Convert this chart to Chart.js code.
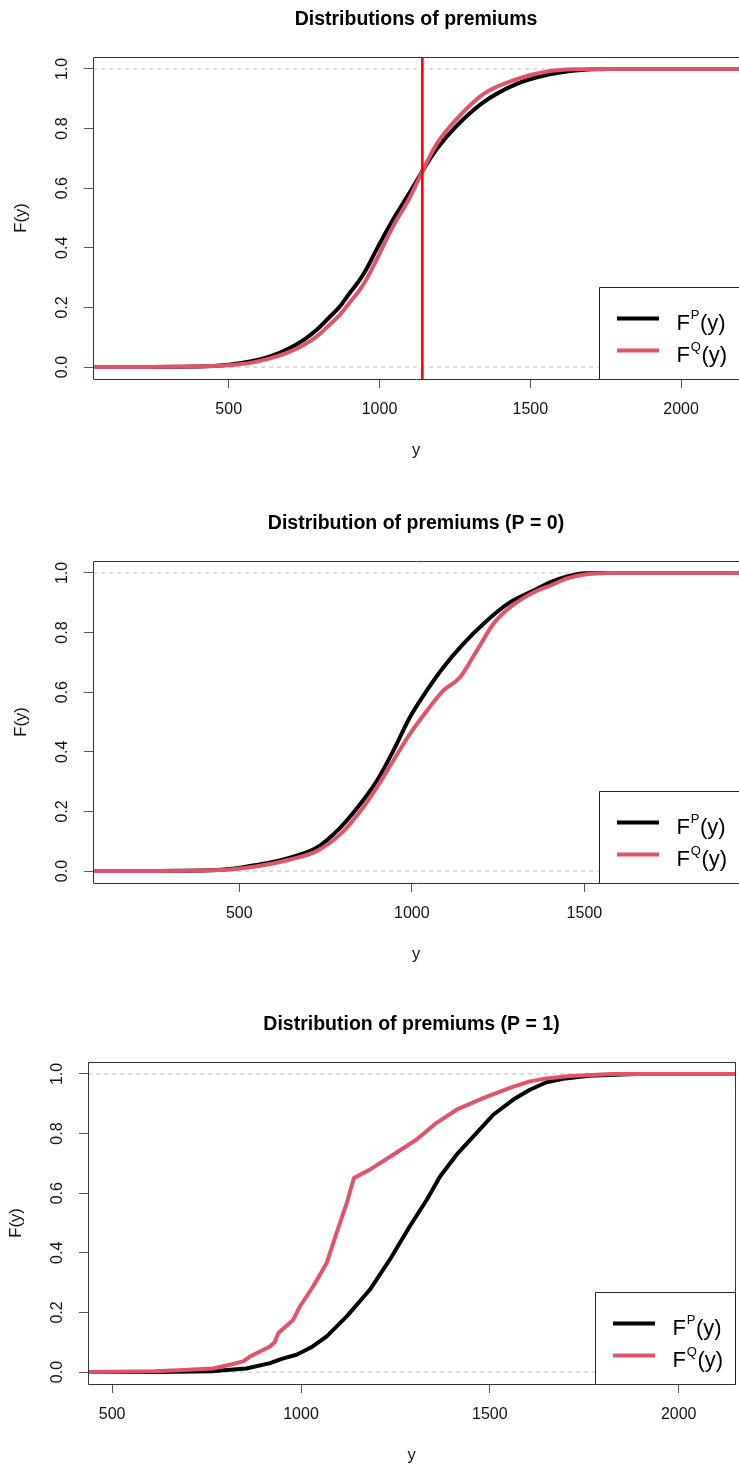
<!DOCTYPE html>
<html>
<head>
<meta charset="utf-8">
<script src="https://cdn.jsdelivr.net/npm/chart.js@4.4.1/dist/chart.umd.min.js"></script>
<style>
  html, body { margin: 0; padding: 0; background: #fff; overflow: hidden; }
  canvas { position: absolute; left: 0; }
</style>
</head>
<body>
<canvas id="c1" width="739" height="490" style="top:0px"></canvas>
<canvas id="c2" width="739" height="500" style="top:490px"></canvas>
<canvas id="c3" width="739" height="478" style="top:990px"></canvas>
<script>
// Textes
const TITLES = ["Distributions of premiums", "Distribution of premiums (P = 0)", "Distribution of premiums (P = 1)"];
const X_LABEL = "y";
const Y_LABEL = "F(y)";
const LEGEND_SUPS = ["P", "Q"];

// Graduations
const Y_TICKS = [0, 0.2, 0.4, 0.6, 0.8, 1.0];
const X_TICKS_1 = [500, 1000, 1500, 2000];
const X_TICKS_2 = [500, 1000, 1500];
const X_TICKS_3 = [500, 1000, 1500, 2000];
const Y_MIN = -0.04, Y_MAX = 1.04;

// Seuil (ligne rouge du premier graphique)
const CUT_1 = 1142;

// Panneau 1 : toutes les primes
const P1_X_P = [50, 400, 500, 571, 640, 703, 750, 792, 830, 869, 900, 935, 960, 990, 1045, 1100, 1139, 1189, 1255, 1343, 1453, 1564, 1650, 1760, 2192];
const P1_F_P = [0, 0.002, 0.008, 0.019, 0.037, 0.064, 0.092, 0.125, 0.163, 0.204, 0.247, 0.293, 0.335, 0.394, 0.495, 0.585, 0.652, 0.73, 0.808, 0.887, 0.949, 0.982, 0.995, 1, 1];
const P1_X_Q = [50, 420, 500, 571, 640, 703, 750, 792, 830, 869, 900, 935, 960, 990, 1045, 1100, 1139, 1189, 1255, 1343, 1453, 1564, 1650, 1760, 2192];
const P1_F_Q = [0, 0.003, 0.006, 0.014, 0.03, 0.052, 0.075, 0.103, 0.138, 0.176, 0.215, 0.26, 0.3, 0.36, 0.472, 0.568, 0.65, 0.747, 0.831, 0.915, 0.965, 0.993, 0.999, 1, 1];

// Panneau 2 : P = 0
const P2_X_P = [70, 394, 480, 531, 590, 647, 724, 792, 850, 898, 946, 994, 1043, 1091, 1149, 1207, 1284, 1362, 1400, 1450, 1500, 1568, 1950];
const P2_F_P = [0, 0.002, 0.008, 0.017, 0.029, 0.045, 0.078, 0.145, 0.224, 0.302, 0.403, 0.515, 0.605, 0.683, 0.762, 0.829, 0.901, 0.946, 0.968, 0.988, 0.999, 1, 1];
const P2_X_Q = [70, 394, 480, 531, 590, 647, 724, 792, 850, 898, 946, 994, 1043, 1091, 1139, 1188, 1236, 1284, 1362, 1400, 1450, 1500, 1568, 1950];
const P2_F_Q = [0, 0.002, 0.006, 0.013, 0.024, 0.039, 0.067, 0.123, 0.2, 0.28, 0.37, 0.459, 0.537, 0.605, 0.649, 0.739, 0.829, 0.884, 0.94, 0.957, 0.982, 0.995, 1, 1];

// Panneau 3 : P = 1
const P3_X_P = [430, 615, 764, 812, 855, 918, 951, 988, 1030, 1068, 1121, 1182, 1235, 1288, 1333, 1368, 1412, 1465, 1509, 1562, 1606, 1650, 1700, 1762, 1887, 2150];
const P3_F_P = [0, 0, 0.003, 0.008, 0.012, 0.03, 0.045, 0.058, 0.085, 0.12, 0.187, 0.276, 0.377, 0.489, 0.578, 0.656, 0.729, 0.802, 0.863, 0.914, 0.947, 0.972, 0.985, 0.994, 1, 1];
const P3_X_Q = [430, 611, 675, 767, 812, 847, 865, 918, 930, 940, 979, 997, 1032, 1068, 1094, 1121, 1140, 1182, 1244, 1306, 1359, 1412, 1482, 1553, 1606, 1650, 1712, 1825, 2150];
const P3_F_Q = [0, 0.003, 0.006, 0.012, 0.0245, 0.036, 0.052, 0.086, 0.1, 0.131, 0.175, 0.22, 0.287, 0.366, 0.466, 0.567, 0.651, 0.679, 0.729, 0.78, 0.836, 0.88, 0.919, 0.953, 0.975, 0.985, 0.993, 1, 1];

const FONT = '"Liberation Sans", Arial, Helvetica, sans-serif';
const BLACK = '#000000';
const PINK = '#DF536B';

// Mise en page de chaque panneau (en pixels du canvas)
const PANELS = [
    { id: 'c1', h: 490, left: 93, top: 57, right: 739, bottom: 379, xMin: 50, xMax: 2192, xTicks: X_TICKS_1,
      title: TITLES[0], rightBorder: false, cut: CUT_1, smooth: true,
      xp: P1_X_P, fp: P1_F_P, xq: P1_X_Q, fq: P1_F_Q },
    { id: 'c2', h: 500, left: 93, top: 71, right: 739, bottom: 393, xMin: 76, xMax: 1948, xTicks: X_TICKS_2,
      title: TITLES[1], rightBorder: false, cut: null, smooth: true,
      xp: P2_X_P, fp: P2_F_P, xq: P2_X_Q, fq: P2_F_Q },
    { id: 'c3', h: 478, left: 88, top: 72, right: 735, bottom: 394, xMin: 436, xMax: 2149, xTicks: X_TICKS_3,
      title: TITLES[2], rightBorder: true, cut: null, smooth: false,
      xp: P3_X_P, fp: P3_F_P, xq: P3_X_Q, fq: P3_F_Q }
];

function toPoints(xs, ys) {
    return xs.map((x, i) => ({ x: x, y: ys[i] }));
}

// Cadre, étiquettes de l'axe y, titres d'axes et légende façon R
const extras = {
    id: 'extras',
    afterDraw(chart, args, opts) {
        const ctx = chart.ctx;
        const a = chart.chartArea;
        const px = v => Math.round(v) + 0.5;
        ctx.save();

        // cadre
        ctx.strokeStyle = '#333';
        ctx.lineWidth = 1;
        ctx.beginPath();
        ctx.moveTo(px(a.right), px(a.top));
        ctx.lineTo(px(a.left), px(a.top));
        ctx.lineTo(px(a.left), px(a.bottom));
        ctx.lineTo(px(a.right), px(a.bottom));
        if (opts.rightBorder) ctx.lineTo(px(a.right), px(a.top));
        ctx.stroke();

        // étiquettes y pivotées
        const ys = chart.scales.y;
        ctx.fillStyle = '#111';
        ctx.font = '16px ' + FONT;
        ctx.textAlign = 'center';
        ctx.textBaseline = 'middle';
        ys.ticks.forEach(t => {
            const py = ys.getPixelForValue(t.value);
            ctx.save();
            ctx.translate(a.left - 30, py);
            ctx.rotate(-Math.PI / 2);
            ctx.fillText(t.label, 0, 0);
            ctx.restore();
        });

        // titres d'axes
        ctx.font = '16.5px ' + FONT;
        ctx.save();
        ctx.translate(a.left - 72, (a.top + a.bottom) / 2);
        ctx.rotate(-Math.PI / 2);
        ctx.fillText(Y_LABEL, 0, 0);
        ctx.restore();
        ctx.fillText(X_LABEL, (a.left + a.right) / 2, a.bottom + 71);

        // légende
        const L = a.right - 140, T = a.bottom - 92;
        ctx.fillStyle = '#fff';
        ctx.fillRect(L, T, a.right - L, a.bottom - T);
        ctx.strokeStyle = '#222';
        ctx.beginPath();
        ctx.moveTo(px(L), px(a.bottom));
        ctx.lineTo(px(L), px(T));
        ctx.lineTo(px(a.right), px(T));
        if (opts.rightBorder) ctx.lineTo(px(a.right), px(a.bottom));
        ctx.stroke();

        const cols = [BLACK, PINK];
        LEGEND_SUPS.forEach((sup, i) => {
            const ly = T + 31.5 + i * 32;
            ctx.strokeStyle = cols[i];
            ctx.lineWidth = 4;
            ctx.beginPath();
            ctx.moveTo(L + 18, ly);
            ctx.lineTo(L + 60, ly);
            ctx.stroke();

            ctx.fillStyle = '#000';
            ctx.textAlign = 'left';
            ctx.textBaseline = 'alphabetic';
            let x = L + 77.4;
            ctx.font = '22px ' + FONT;
            ctx.fillText('F', x, ly + 11);
            x += ctx.measureText('F').width + 1;
            ctx.font = '13px ' + FONT;
            ctx.fillText(sup, x, ly);
            x += ctx.measureText(sup).width + 0.5;
            ctx.font = '22px ' + FONT;
            ctx.fillText('(y)', x, ly + 11);
        });

        ctx.restore();
    }
};

PANELS.forEach(function (p) {
    const canvas = document.getElementById(p.id);
    const curve = {
        pointRadius: 0, borderWidth: 4, borderJoinStyle: 'round', clip: 0,
        cubicInterpolationMode: p.smooth ? 'monotone' : 'default', tension: 0
    };
    const datasets = [];
    if (p.cut !== null) {
        datasets.push({
            data: [{ x: p.cut, y: Y_MIN }, { x: p.cut, y: Y_MAX }],
            borderColor: '#FF0000', borderWidth: 2.6, pointRadius: 0, clip: 0
        });
    }
    datasets.push(Object.assign({ data: toPoints(p.xq, p.fq), borderColor: PINK }, curve));
    datasets.push(Object.assign({ data: toPoints(p.xp, p.fp), borderColor: BLACK }, curve));
    [1, 0].forEach(h => datasets.push({
        data: [{ x: p.xMin, y: h }, { x: p.xMax, y: h }],
        borderColor: '#BEBEBE', borderWidth: 1, borderDash: [4, 4], pointRadius: 0, clip: 0
    }));

    const tickGrid = { display: true, drawOnChartArea: false, drawTicks: true, tickLength: 9, color: '#555', lineWidth: 1 };

    new Chart(canvas.getContext('2d'), {
        type: 'line',
        data: { datasets: datasets },
        options: {
            responsive: false,
            animation: false,
            devicePixelRatio: 1,
            events: [],
            layout: { padding: { left: 0, top: 0, bottom: 0, right: 739 - p.right } },
            plugins: {
                legend: { display: false },
                tooltip: { enabled: false },
                title: {
                    display: true, fullSize: false, text: p.title, color: '#000',
                    font: { family: FONT, size: 19.5, weight: 'bold', lineHeight: 1.2 },
                    padding: { top: p.top - 49.2, bottom: 25.8 }
                },
                extras: { rightBorder: p.rightBorder }
            },
            scales: {
                x: {
                    type: 'linear', min: p.xMin, max: p.xMax,
                    afterBuildTicks: s => { s.ticks = p.xTicks.map(v => ({ value: v })); },
                    afterFit: s => { s.height = p.h - p.bottom; },
                    grid: tickGrid,
                    border: { display: false },
                    ticks: { color: '#111', font: { family: FONT, size: 16 }, padding: 11.5,
                             maxRotation: 0, autoSkip: false, callback: v => String(v) }
                },
                y: {
                    type: 'linear', min: Y_MIN, max: Y_MAX,
                    afterBuildTicks: s => { s.ticks = Y_TICKS.map(v => ({ value: v })); },
                    afterFit: s => { s.width = p.left; },
                    grid: tickGrid,
                    border: { display: false },
                    ticks: { display: false, callback: v => v.toFixed(1) }
                }
            }
        },
        plugins: [extras]
    });
});
</script>
</body>
</html>
